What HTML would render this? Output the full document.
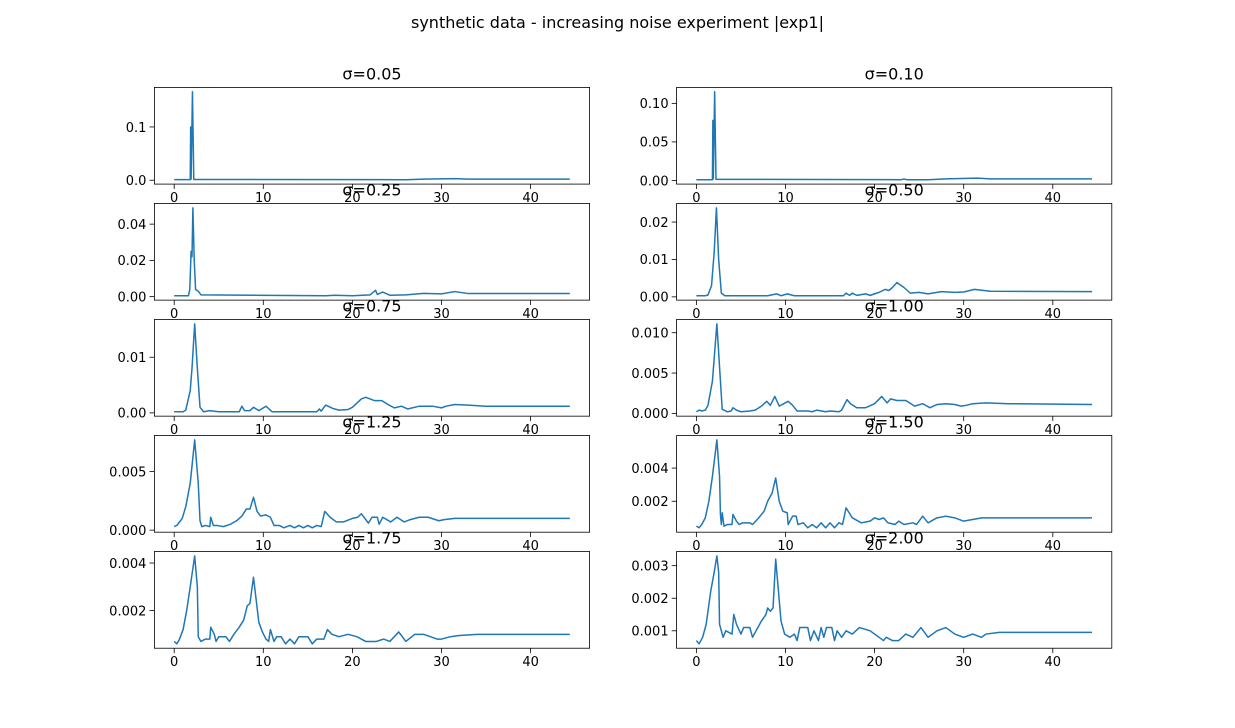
<!DOCTYPE html>
<html><head><meta charset="utf-8"><style>
body{margin:0;background:#fff;}
svg{display:block;font-family:"DejaVu Sans","Liberation Sans",sans-serif;}
</style></head><body>
<svg id="fig" width="1235" height="728" viewBox="0 0 1235 728">
<rect width="1235" height="728" fill="#fff"/>
<text x="617.5" y="28" text-anchor="middle" font-size="16" fill="#000">synthetic data - increasing noise experiment |exp1|</text>
</svg>
<script>
const titles = ["σ=0.05","σ=0.10","σ=0.25","σ=0.50","σ=0.75","σ=1.00","σ=1.25","σ=1.50","σ=1.75","σ=2.00"];
const xTicks = [0,10,20,30,40];
const xA=[0,1.8,1.85,1.9,2.05,2.2,26,28,31.5,33,44.4];
const yA=[0.0012,0.0012,0.1,0.002,0.166,0.0015,0.001,0.002,0.003,0.002,0.002];
const xB=[0,1.8,1.85,1.9,2.05,2.2,23,23.3,23.6,26,28,31.5,33,44.4];
const yB=[0.001,0.001,0.078,0.002,0.115,0.0015,0.001,0.002,0.001,0.001,0.002,0.003,0.002,0.002];
const xC=[0,1.6,1.75,1.9,2.0,2.1,2.25,2.4,2.7,3.0,17,18,20,22,22.6,22.8,23.4,24.2,26,28,30,31.5,33,44.4];
const yC=[0.0005,0.0005,0.004,0.025,0.022,0.049,0.02,0.004,0.003,0.001,0.0005,0.0008,0.0005,0.001,0.0035,0.0012,0.0025,0.0008,0.001,0.0018,0.0015,0.0028,0.0017,0.0017];
const xD=[0,1,1.3,1.7,2.0,2.25,2.5,2.8,3.2,8,9,9.5,10.2,11,16.5,16.8,17.2,17.5,18,19,19.5,20.5,21.2,21.6,22,22.5,23.3,24,25,26,27.5,29,30,31.2,33,44.4];
const yD=[0.0003,0.0003,0.0005,0.003,0.012,0.0238,0.01,0.001,0.0003,0.0003,0.0008,0.0003,0.0008,0.0003,0.0003,0.001,0.0004,0.001,0.0004,0.0008,0.0004,0.0012,0.002,0.0017,0.0025,0.0038,0.0025,0.001,0.0012,0.0008,0.0014,0.0012,0.0013,0.002,0.0015,0.0014];
const xE=[0,1,1.3,1.8,2.0,2.3,2.6,2.9,3.3,4,5,7.3,7.6,7.9,8.5,8.9,9.5,10.3,11,16,16.3,16.5,17,17.8,18.5,19.5,20,21,21.5,22.5,23.3,24,24.7,25.5,26.2,27.5,29,30,30.5,31.5,33,35,44.4];
const yE=[0.0002,0.0002,0.0005,0.004,0.008,0.016,0.008,0.001,0.0002,0.0004,0.0002,0.0002,0.0012,0.0004,0.0004,0.001,0.0004,0.0012,0.0002,0.0002,0.0007,0.0003,0.0014,0.0008,0.0005,0.0006,0.001,0.0025,0.0028,0.0022,0.0022,0.0015,0.0009,0.0012,0.0007,0.0012,0.0012,0.0009,0.0012,0.0015,0.0014,0.0012,0.0012];
const xF=[0,0.3,0.6,1.0,1.3,1.8,2.3,2.7,2.9,3.5,3.9,4.1,4.5,5,6,6.6,7.3,7.9,8.3,8.8,9.3,9.8,10.3,10.8,11.3,12.5,13,13.5,14.5,15,16,16.3,16.9,17.3,18,19,20,20.8,21.4,21.8,22.5,23.5,24.5,25.4,26.2,27,28,29,29.7,30.3,31,32.5,35,44.4];
const yF=[0.0002,0.0004,0.0003,0.0004,0.001,0.004,0.0111,0.004,0.0005,0.0002,0.0003,0.0007,0.0004,0.0002,0.0003,0.0004,0.0009,0.0015,0.001,0.0021,0.0009,0.0012,0.0015,0.001,0.0003,0.0003,0.0002,0.0004,0.0002,0.0003,0.0002,0.0004,0.0017,0.0012,0.0007,0.0007,0.0012,0.0021,0.0013,0.0018,0.0016,0.0016,0.0009,0.0012,0.0007,0.0011,0.0012,0.0011,0.0009,0.001,0.0012,0.0013,0.0012,0.0011];
const xG=[0,0.3,0.5,0.9,1.3,1.8,2.3,2.7,2.9,3.1,3.5,4,4.1,4.4,4.8,5.5,6.3,7,7.6,8.1,8.5,8.9,9.3,9.7,10.3,10.8,11.2,11.8,12.3,13,13.5,14,14.5,15,15.5,16,16.5,16.9,17.5,18.2,19,20,20.6,21,21.5,21.8,22.2,22.8,23,23.4,24.3,25,25.8,26.5,27.5,28.5,29.7,30.3,31.5,44.4];
const yG=[0.0003,0.0004,0.0006,0.001,0.002,0.004,0.0077,0.004,0.0008,0.0003,0.0004,0.0003,0.0011,0.0004,0.0004,0.0003,0.0005,0.0008,0.0012,0.0018,0.0018,0.0028,0.0016,0.0012,0.0013,0.0011,0.0004,0.0004,0.0002,0.0004,0.0002,0.0004,0.0002,0.0004,0.0002,0.0004,0.0003,0.0016,0.0011,0.0007,0.0007,0.001,0.0011,0.0014,0.0009,0.0006,0.0011,0.0011,0.0005,0.0011,0.0007,0.0011,0.0007,0.0009,0.0011,0.0011,0.0008,0.0009,0.001,0.001];
const xH=[0,0.3,0.6,1.0,1.4,1.8,2.3,2.6,2.7,2.8,2.9,3.1,3.5,4,4.1,4.5,4.8,5.2,6,6.3,7,7.6,8,8.5,8.9,9.3,9.7,10.2,10.3,10.8,11.2,11.4,12,12.5,13,13.5,14,14.5,15,15.5,16,16.4,16.8,17.5,18.5,19.5,20,20.5,21,21.5,22.3,22.7,23.3,24.3,24.7,25.4,26,27,28,29,30,31,32,44.4];
const yH=[0.0005,0.0004,0.0006,0.001,0.002,0.0035,0.0057,0.0035,0.0012,0.0006,0.0013,0.0005,0.0006,0.0006,0.0012,0.0008,0.0006,0.0007,0.0007,0.0006,0.001,0.0014,0.002,0.0025,0.0034,0.002,0.0014,0.0013,0.0006,0.0011,0.0011,0.0006,0.0007,0.0004,0.0006,0.0004,0.0007,0.0004,0.0007,0.0004,0.0007,0.0006,0.0016,0.001,0.0007,0.0008,0.001,0.0009,0.001,0.0007,0.0006,0.0008,0.0006,0.0007,0.0006,0.0011,0.0007,0.001,0.0011,0.001,0.0008,0.0009,0.001,0.001];
const xI=[0,0.3,0.6,1.0,1.4,1.8,2.3,2.6,2.7,3.0,3.5,4,4.1,4.5,4.7,5,5.8,6.2,6.7,7.3,7.8,8.2,8.5,8.9,9.5,9.9,10.3,10.6,10.8,11.2,11.5,12,12.5,13,13.5,14,15,15.5,16,16.8,17.2,17.7,18.5,19.5,20.5,21,21.5,22.7,23.5,24.2,25.2,26,27,28,29.5,30,31,32,34,44.4];
const yI=[0.0007,0.0006,0.0008,0.0012,0.002,0.003,0.0043,0.003,0.0009,0.0007,0.0008,0.0008,0.0013,0.001,0.0007,0.0009,0.0009,0.0007,0.001,0.0013,0.0016,0.0022,0.0023,0.0034,0.0015,0.0011,0.0008,0.0007,0.0012,0.0007,0.0009,0.0009,0.0006,0.0008,0.0006,0.0009,0.0009,0.0006,0.0008,0.0008,0.0012,0.001,0.0009,0.001,0.0009,0.0008,0.0007,0.0007,0.0008,0.0007,0.0011,0.0007,0.001,0.001,0.0008,0.0008,0.0009,0.00095,0.001,0.001];
const xJ=[0,0.3,0.7,1.1,1.6,2.0,2.3,2.5,2.6,3,3.3,4,4.2,4.5,5,5.3,6,6.3,6.7,7.3,7.8,8,8.3,8.6,8.9,9.5,9.9,10.5,11,11.3,11.6,12.5,12.8,13.2,13.7,14,14.3,14.6,15.2,15.5,15.8,16.3,16.8,17.5,18.3,19.5,20.5,21,21.3,22,22.7,23.5,24.3,25.2,26,27,28,29,30,31,32,32.5,34,44.4];
const yJ=[0.0007,0.0006,0.0008,0.0012,0.0022,0.0028,0.0033,0.0028,0.0012,0.0008,0.001,0.0009,0.0015,0.0012,0.0009,0.0011,0.0011,0.0008,0.001,0.0013,0.0015,0.0017,0.0016,0.0017,0.0032,0.0013,0.0009,0.0008,0.0009,0.0007,0.0011,0.0011,0.0007,0.001,0.0007,0.0011,0.0008,0.0011,0.0011,0.0007,0.001,0.0008,0.001,0.0009,0.0011,0.001,0.0008,0.0007,0.0008,0.0007,0.0007,0.0009,0.0008,0.0011,0.0008,0.001,0.0011,0.0009,0.0008,0.0009,0.0008,0.0009,0.00095,0.00095];
const yTicksA=[0,0.1], yLabA=["0.0","0.1"];
const yTicksB=[0,0.05,0.1], yLabB=["0.00","0.05","0.10"];
const yTicksC=[0,0.02,0.04], yLabC=["0.00","0.02","0.04"];
const yTicksD=[0,0.01,0.02], yLabD=["0.00","0.01","0.02"];
const yTicksE=[0,0.01], yLabE=["0.00","0.01"];
const yTicksF=[0,0.005,0.01], yLabF=["0.000","0.005","0.010"];
const yTicksG=[0,0.005], yLabG=["0.000","0.005"];
const yTicksH=[0.002,0.004], yLabH=["0.002","0.004"];
const yTicksI=[0.002,0.004], yLabI=["0.002","0.004"];
const yTicksJ=[0.001,0.002,0.003], yLabJ=["0.001","0.002","0.003"];

const panels=[[xA,yA,yTicksA,yLabA],[xB,yB,yTicksB,yLabB],[xC,yC,yTicksC,yLabC],[xD,yD,yTicksD,yLabD],[xE,yE,yTicksE,yLabE],[xF,yF,yTicksF,yLabF],[xG,yG,yTicksG,yLabG],[xH,yH,yTicksH,yLabH],[xI,yI,yTicksI,yLabI],[xJ,yJ,yTicksJ,yLabJ]];
const NS="http://www.w3.org/2000/svg";
const svg=document.getElementById('fig');
function mk(tag,attrs,parent){const e=document.createElementNS(NS,tag);for(const k in attrs)e.setAttribute(k,attrs[k]);parent.appendChild(e);return e;}
const W=435.2,H=96.7,gapY=19.33;
panels.forEach((p,i)=>{
  const [xs,ys,yt,yl]=p;
  const col=i%2,row=Math.floor(i/2);
  const L=154.4+col*(W+87.0), T=87.4+row*(H+gapY);
  const xmin=Math.min(...xs),xmax=Math.max(...xs),xr=xmax-xmin;
  const ymin=Math.min(...ys),ymax=Math.max(...ys),yr=ymax-ymin;
  const x0=xmin-0.05*xr,x1=xmax+0.05*xr,y0=ymin-0.05*yr,y1=ymax+0.05*yr;
  const sx=v=>L+(v-x0)/(x1-x0)*W;
  const sy=v=>T+H-(v-y0)/(y1-y0)*H;
  const g=mk('g',{},svg);
  
  
  const d=xs.map((x,j)=>(j?'L':'M')+sx(x).toFixed(2)+','+sy(ys[j]).toFixed(2)).join('');
  const clip=mk('clipPath',{id:'c'+i},g);
  mk('rect',{x:L,y:T,width:W,height:H},clip);
  const line=mk('path',{d:d,fill:'none',stroke:'#1f77b4','stroke-width':1.5,'stroke-linejoin':'round','clip-path':'url(#c'+i+')'},g);
  
  
  const fr=mk('rect',{x:L,y:T,width:W,height:H,fill:'none',stroke:'#000','stroke-width':0.8},g);
  
  
  xTicks.forEach(t=>{
    const X=sx(t);
    mk('line',{x1:X,x2:X,y1:T+H,y2:T+H+4.9,stroke:'#000','stroke-width':0.8},g);
    const tx=mk('text',{x:X,y:T+H+18,'text-anchor':'middle','font-size':13,fill:'#000'},g);
    tx.textContent=String(t);
    
    
  });
  yt.forEach((t,k)=>{
    const Y=sy(t);
    mk('line',{x1:L-4.9,x2:L,y1:Y,y2:Y,stroke:'#000','stroke-width':0.8},g);
    const tx=mk('text',{x:L-8,y:Y+4.8,'text-anchor':'end','font-size':13,fill:'#000'},g);
    tx.textContent=yl[k];
    
    
  });
  const tt=mk('text',{x:L+W/2,y:T-8,'text-anchor':'middle','font-size':16,fill:'#000'},g);
  tt.textContent=titles[i];
  
  
});
</script>
</body></html>
